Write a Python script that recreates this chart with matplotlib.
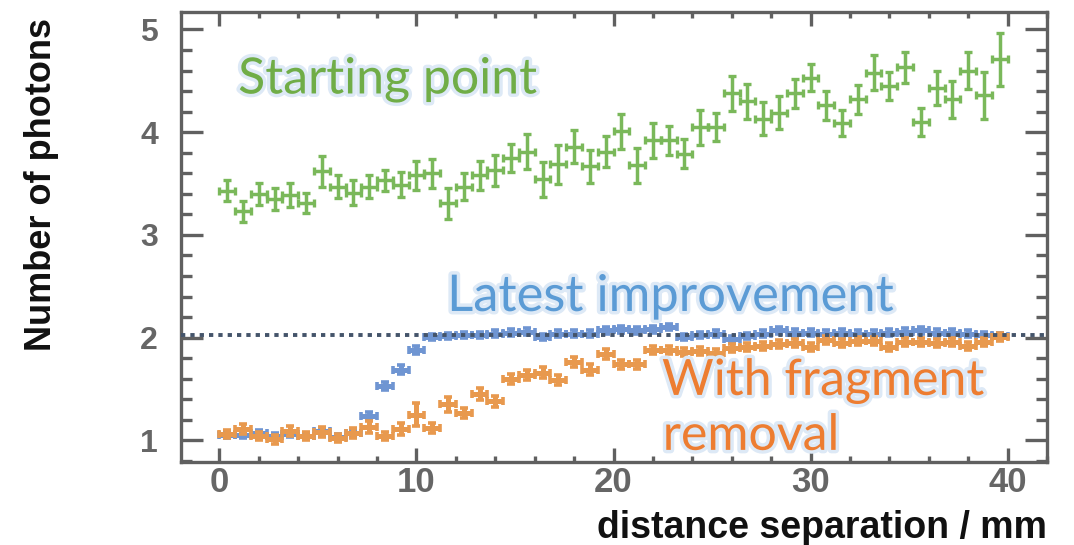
import numpy as np
import matplotlib
matplotlib.use('Agg')
import matplotlib.pyplot as plt
import matplotlib.patheffects as pe
from matplotlib.ticker import MultipleLocator

# 0.8 mm bins between 0 and 40 mm
bin_centres = np.arange(0.4, 40, 0.8)
bin_half_width = 0.4

start_vals = [3.43, 3.23, 3.40, 3.35, 3.39, 3.31, 3.62, 3.47, 3.41, 3.47,
              3.53, 3.49, 3.58, 3.60, 3.31, 3.47, 3.58, 3.63, 3.75, 3.81,
              3.54, 3.69, 3.86, 3.67, 3.81, 4.01, 3.68, 3.92, 3.92, 3.79,
              4.05, 4.05, 4.38, 4.30, 4.13, 4.19, 4.38, 4.53, 4.26, 4.09,
              4.32, 4.58, 4.45, 4.63, 4.10, 4.43, 4.32, 4.60, 4.36, 4.71]
start_errs = [0.10, 0.10, 0.11, 0.11, 0.12, 0.10, 0.15, 0.11, 0.12, 0.11,
              0.10, 0.12, 0.14, 0.14, 0.15, 0.13, 0.14, 0.15, 0.14, 0.17,
              0.17, 0.19, 0.16, 0.16, 0.15, 0.17, 0.17, 0.17, 0.14, 0.14,
              0.17, 0.14, 0.17, 0.17, 0.16, 0.16, 0.14, 0.13, 0.14, 0.13,
              0.14, 0.17, 0.14, 0.15, 0.14, 0.17, 0.18, 0.18, 0.23, 0.26]

latest_vals = [1.05, 1.05, 1.07, 1.04, 1.06, 1.04, 1.09, 1.03, 1.07, 1.24,
               1.53, 1.69, 1.88, 2.01, 2.02, 2.03, 2.03, 2.04, 2.05, 2.06,
               2.01, 2.04, 2.04, 2.04, 2.07, 2.08, 2.07, 2.08, 2.10, 2.01,
               2.03, 2.04, 1.99, 2.02, 2.04, 2.07, 2.05, 2.05, 2.04, 2.05,
               2.04, 2.04, 2.05, 2.06, 2.07, 2.05, 2.05, 2.04, 2.03, 2.02]
latest_errs = [0.03, 0.03, 0.03, 0.03, 0.03, 0.03, 0.03, 0.03, 0.03, 0.04,
               0.04, 0.04, 0.04, 0.03, 0.03, 0.03, 0.03, 0.03, 0.03, 0.03,
               0.03, 0.03, 0.03, 0.03, 0.03, 0.03, 0.03, 0.03, 0.03, 0.03,
               0.03, 0.03, 0.03, 0.03, 0.03, 0.03, 0.03, 0.03, 0.03, 0.03,
               0.03, 0.03, 0.03, 0.03, 0.03, 0.03, 0.03, 0.03, 0.03, 0.03]

frag_vals = [1.06, 1.11, 1.04, 1.01, 1.09, 1.04, 1.08, 1.02, 1.07, 1.13,
             1.04, 1.11, 1.25, 1.12, 1.35, 1.27, 1.45, 1.38, 1.60, 1.64,
             1.66, 1.59, 1.76, 1.69, 1.84, 1.74, 1.74, 1.88, 1.88, 1.86,
             1.87, 1.85, 1.90, 1.91, 1.92, 1.94, 1.95, 1.91, 1.98, 1.95,
             1.97, 1.97, 1.91, 1.96, 1.96, 1.95, 1.96, 1.92, 1.96, 2.01]
frag_errs = [0.04, 0.05, 0.04, 0.04, 0.05, 0.04, 0.05, 0.04, 0.05, 0.06,
             0.04, 0.06, 0.11, 0.05, 0.07, 0.05, 0.06, 0.05, 0.05, 0.05,
             0.05, 0.05, 0.05, 0.05, 0.05, 0.04, 0.04, 0.04, 0.04, 0.04,
             0.04, 0.04, 0.04, 0.04, 0.04, 0.04, 0.04, 0.04, 0.04, 0.04,
             0.04, 0.04, 0.04, 0.04, 0.04, 0.04, 0.04, 0.04, 0.04, 0.04]

expected_photons = 2.03

frame_col = '#606060'
narrow = ['Liberation Sans Narrow', 'Liberation Sans', 'DejaVu Sans']

fig = plt.figure(figsize=(10.74, 5.45), dpi=100)
ax = fig.add_axes([181 / 1074, 1 - 462 / 545, 866 / 1074, 450 / 545])

ax.errorbar(bin_centres, start_vals, xerr=bin_half_width, yerr=start_errs,
            fmt='none', ecolor='#7ab85a', elinewidth=2.5, capsize=2.7, capthick=2.4)
ax.errorbar(bin_centres, latest_vals, xerr=bin_half_width, yerr=latest_errs,
            fmt='none', ecolor='#6f95d2', elinewidth=3.6, capsize=3.0, capthick=2.6)
ax.errorbar(bin_centres, frag_vals, xerr=bin_half_width, yerr=frag_errs,
            fmt='none', ecolor='#e8994e', elinewidth=3.6, capsize=3.0, capthick=2.6)

# reference level at two photons, across the whole frame
ax.plot([0, 1], [expected_photons, expected_photons], transform=ax.get_yaxis_transform(),
        color='#44546a', lw=2.8, ls=(0, (1.1, 1.3)), solid_capstyle='butt',
        dash_capstyle='butt', zorder=5, clip_on=False)

ax.set_xlim(-1.95, 42.0)
ax.set_ylim(0.79, 5.17)

ax.xaxis.set_major_locator(MultipleLocator(10))
ax.xaxis.set_minor_locator(MultipleLocator(2))
ax.yaxis.set_major_locator(MultipleLocator(1))
ax.yaxis.set_minor_locator(MultipleLocator(0.2))

for s in ax.spines.values():
    s.set_color(frame_col)
    s.set_linewidth(2.4)

ax.tick_params(axis='both', which='both', direction='in', top=True, right=True,
               color=frame_col, width=2.4, labelcolor='#666666')
ax.tick_params(axis='x', which='major', length=10, pad=3)
ax.tick_params(axis='x', which='minor', length=4.5)
ax.tick_params(axis='y', which='major', length=16, pad=16.5)
ax.tick_params(axis='y', which='minor', length=8)

for lab in ax.get_xticklabels():
    lab.set_fontfamily(narrow)
    lab.set_fontweight('bold')
    lab.set_fontsize(25)
for lab in ax.get_yticklabels():
    lab.set_fontfamily(['Liberation Sans', 'DejaVu Sans'])
    lab.set_fontweight('bold')
    lab.set_fontsize(23)

fig.text(42 / 1074, 1 - 18 / 545, 'Number of photons', rotation=90,
         ha='center', va='top', fontsize=26, fontweight='bold',
         family=narrow, color='#111111')
fig.text(1047 / 1074, 1 - 538 / 545, 'distance separation / mm',
         ha='right', va='baseline', fontsize=27, fontweight='bold',
         family=narrow, color='#111111')

glow = [pe.withStroke(linewidth=5, foreground='#dde9f6')]
label_font = ['Lato', 'DejaVu Sans']
ax.text(0.95, 4.377, 'Starting point', color='#70ad47', fontsize=36,
        family=label_font, va='baseline', ha='left', path_effects=glow)
ax.text(11.56, 2.26, 'Latest improvement', color='#5b9bd5', fontsize=36.5,
        family=label_font, va='baseline', ha='left', path_effects=glow)
ax.text(22.46, 1.443, 'With fragment', color='#ed7d31', fontsize=36,
        family=label_font, va='baseline', ha='left', path_effects=glow)
ax.text(22.5, 0.908, 'removal', color='#ed7d31', fontsize=36,
        family=label_font, va='baseline', ha='left', path_effects=glow)

fig.savefig('out.png', dpi=100)
